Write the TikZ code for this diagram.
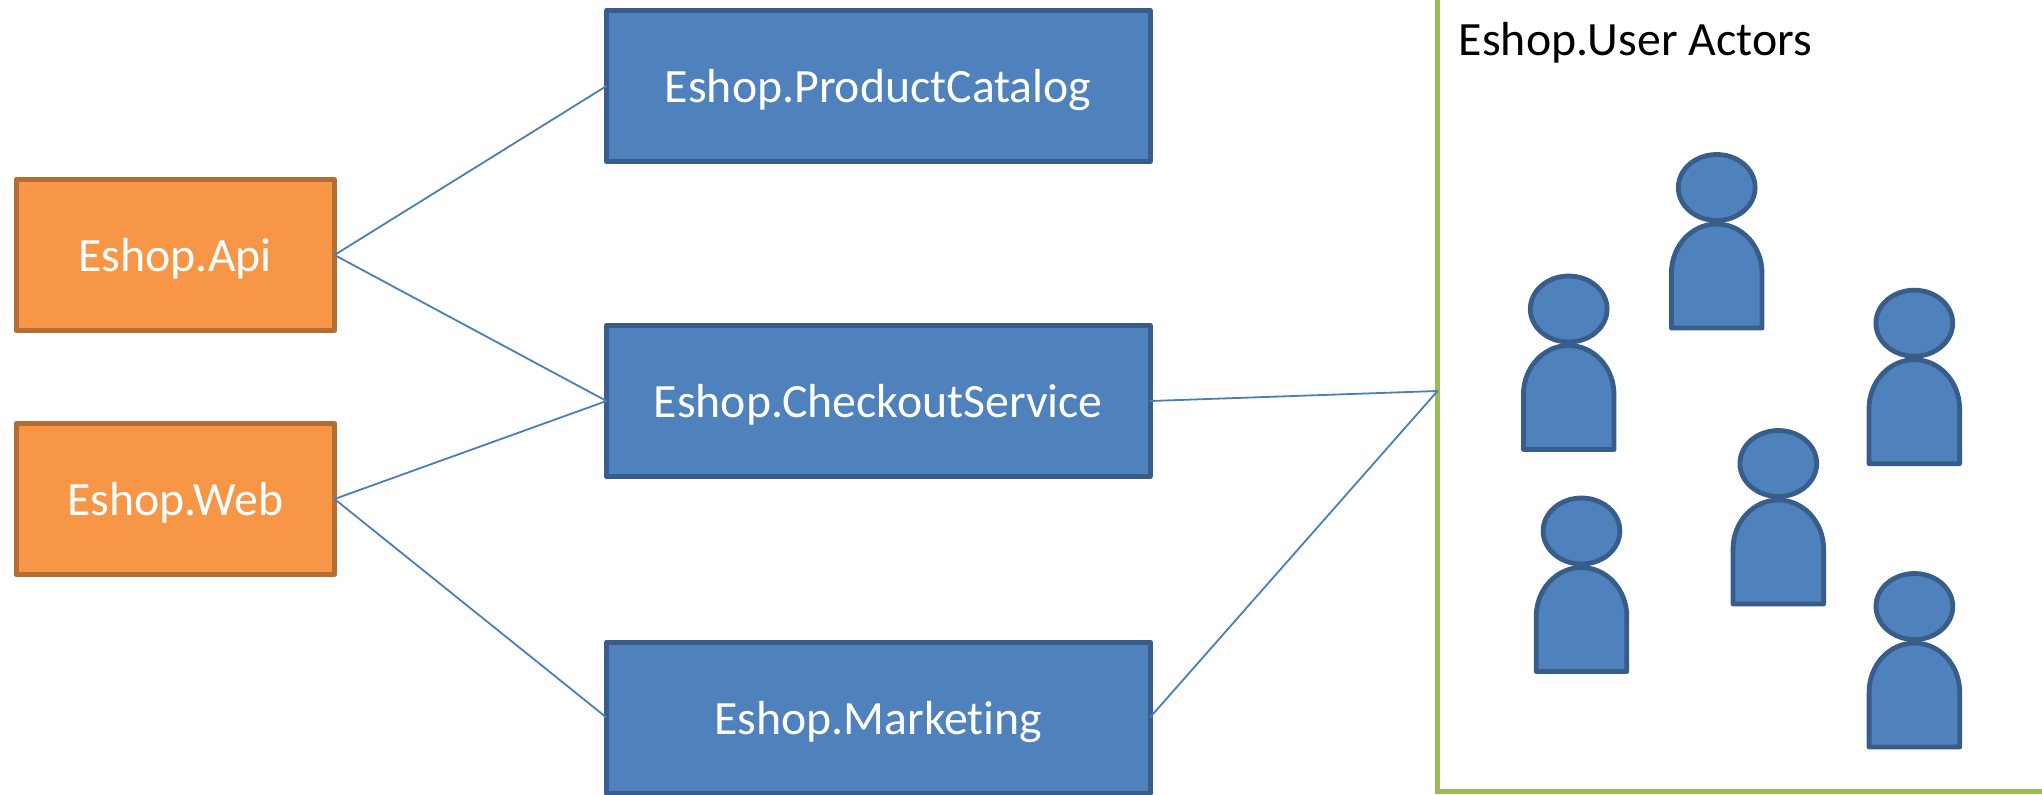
\documentclass[tikz,border=0pt]{standalone}
\usepackage{fontspec}
\setmainfont[Ligatures=NoCommon]{Carlito}
\definecolor{svcfill}{HTML}{4F81BD}
\definecolor{svcline}{HTML}{385D8A}
\definecolor{gwfill}{HTML}{F79646}
\definecolor{gwline}{HTML}{B66D31}
\definecolor{actline}{HTML}{9BBB59}
\definecolor{conn}{HTML}{4A7EBB}
\tikzset{
  boxbase/.style={draw,rectangle,line width=2.5pt,line join=round,inner sep=0pt,outer sep=0pt,
    text=white,align=center,text height=16.7pt,text depth=0pt,
    font=\fontsize{23.9}{28}\selectfont},
  svc/.style={boxbase,fill=svcfill,draw=svcline,minimum width=271.75pt,minimum height=75.5pt},
  gw/.style={boxbase,fill=gwfill,draw=gwline,minimum width=159.25pt,minimum height=75.5pt},
  link/.style={draw=conn,line width=0.9pt,line join=round},
  actorframe/.style={draw=actline,line width=2.5pt},
  frametitle/.style={inner sep=0pt,anchor=base west,text=black,font=\fontsize{23.9}{28}\selectfont},
  person/.pic={
    \draw[fill=svcfill,draw=svcline,line width=2.4pt,line join=round]
      (-45.3,140.5) -- (-45.3,85.5) .. controls (-45.3,58.5) and (-25,36.5) .. (0,36.5)
      .. controls (25,36.5) and (45.3,58.5) .. (45.3,85.5) -- (45.3,140.5) -- cycle;
    \draw[fill=svcfill,draw=svcline,line width=2.4pt] (0,0) ellipse [x radius=19.2pt,y radius=16.5pt];
  }
}
\begin{document}
\begin{tikzpicture}[x=0.5pt,y=-0.5pt]
\useasboundingbox (0,0) rectangle (2042,794);
\draw[actorframe] (1437.5,-5) -- (1437.5,791.5) -- (2047,791.5);
\coordinate (actors) at (1437.5,391);
\node[frametitle] (title) at (1458.5,55.7) {Eshop.User Actors};
\node[svc] (catalog) at (878.25,86) {Eshop.ProductCatalog};
\node[svc] (checkout) at (878.25,401) {Eshop.CheckoutService};
\node[svc] (marketing) at (878.25,717.5) {Eshop.Marketing};
\node[gw] (api) at (175.25,255) {Eshop.Api};
\node[gw] (web) at (175.25,499) {Eshop.Web};
\draw[link] (catalog.west) -- (api.east) -- (checkout.west);
\draw[link] (checkout.west) -- (web.east) -- (marketing.west);
\draw[link] (checkout.east) -- (actors) -- (marketing.east);
\pic (p1) at (1716.7,187.5) {person};
\pic (p2) at (1568.7,309) {person};
\pic (p3) at (1914.3,323.2) {person};
\pic (p4) at (1778.3,463.5) {person};
\pic (p5) at (1581.5,531) {person};
\pic (p6) at (1914.4,606.5) {person};
\end{tikzpicture}
\end{document}
